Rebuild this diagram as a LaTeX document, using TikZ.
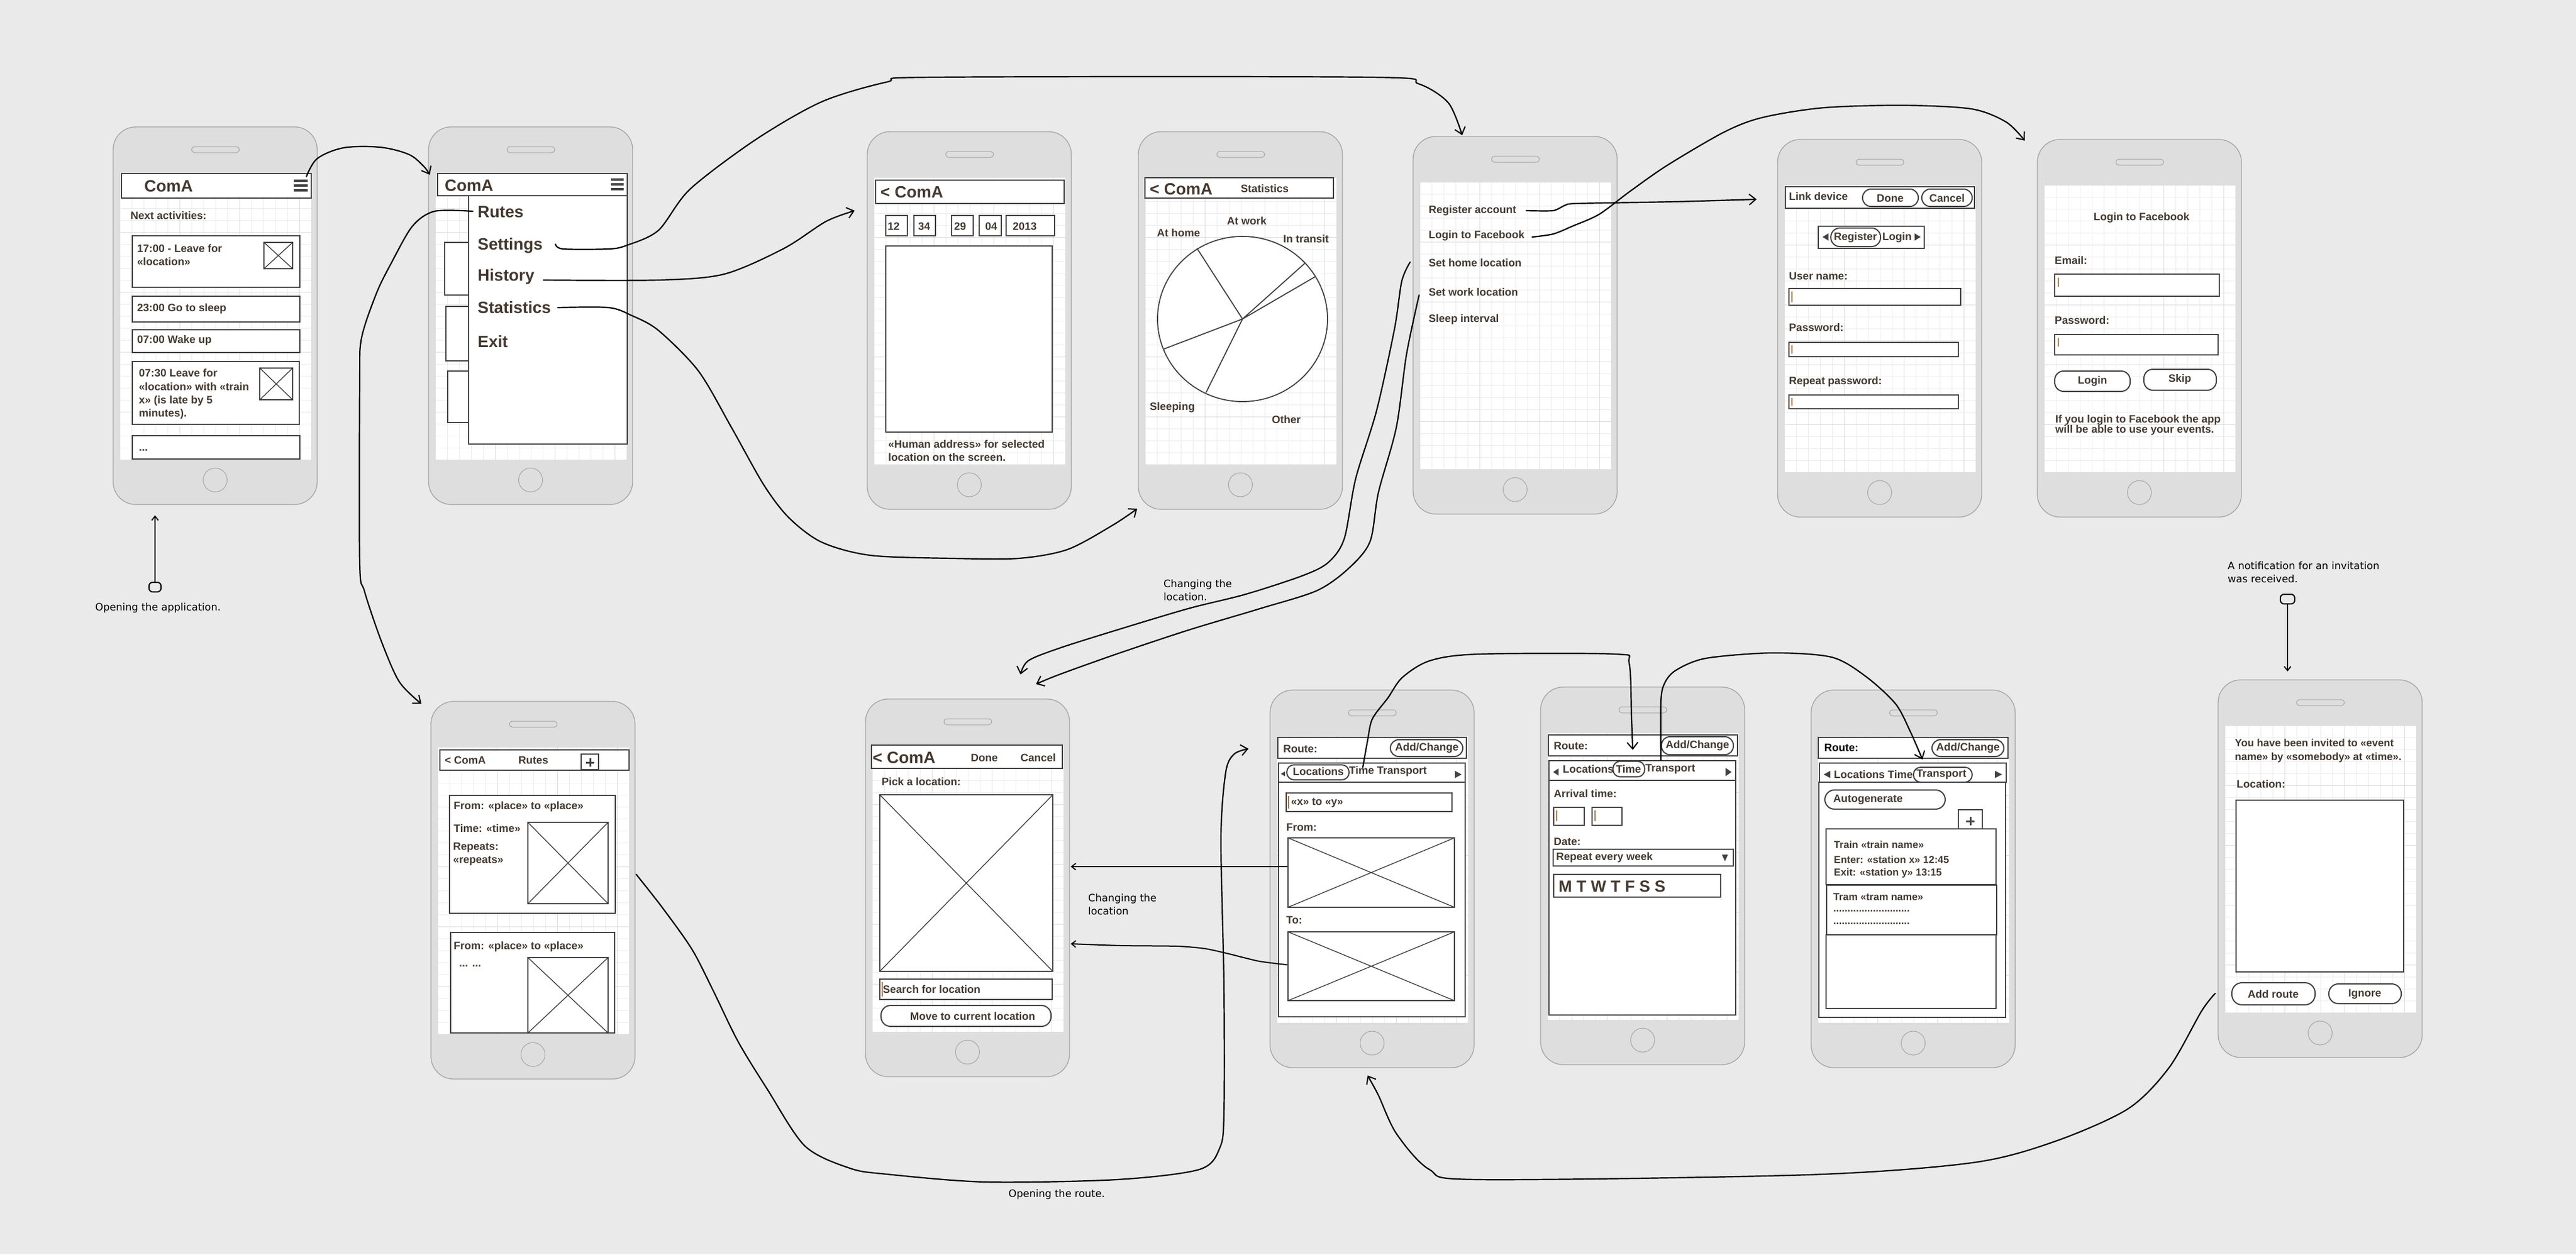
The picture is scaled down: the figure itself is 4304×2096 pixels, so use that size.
\documentclass[tikz,border=0pt]{standalone}
\usepackage{fontspec}
\setmainfont{Liberation Sans}
\newfontfamily\dejavu{DejaVu Sans}
\usetikzlibrary{arrows.meta}
\definecolor{bgc}{HTML}{EAEAEA}
\definecolor{phonefill}{HTML}{DEDEDE}
\definecolor{phoneline}{HTML}{A4A4A4}
\definecolor{gridmin}{HTML}{EDEDED}
\definecolor{gridmaj}{HTML}{DEDEDE}
\definecolor{boxc}{HTML}{424242}
\definecolor{txtc}{HTML}{45392F}
\definecolor{curc}{HTML}{B0703A}
\newcommand\phonedev[3]{%
 \begin{scope}[shift={(#2,#3)}]
 \draw[phonebody] (0,0) rectangle (341,631);
 \fill[white] (11,76) rectangle (331,556);
 \foreach \gx in {31,51,...,311} {\draw[gridminor] (\gx,76) -- (\gx,556);}
 \foreach \gy in {96,116,...,536} {\draw[gridminor] (11,\gy) -- (331,\gy);}
 \foreach \gx in {111,211,311} {\draw[gridmajor] (\gx,76) -- (\gx,556);}
 \foreach \gy in {176,276,376,476} {\draw[gridmajor] (11,\gy) -- (331,\gy);}
 \draw[draw=gridmaj, line width=1pt] (11,76) rectangle (331,556);
 \draw[draw=phoneline, line width=1pt, fill=phonefill, rounded corners=5pt] (131,33) rectangle (211,43);
 \draw[draw=phoneline, line width=1pt] (170.5,590) circle [radius=20];
 \coordinate (#1) at (170.5,315.5);
 \end{scope}}
\newcommand\imgph[4]{\draw[wbox] (#1,#2) rectangle (#3,#4); \draw[imgx] (#1,#2) -- (#3,#4) (#1,#4) -- (#3,#2);}
\newcommand\cursor[3]{\draw[curc, line width=1.2pt] (#1,#2) -- (#1,#3);}
\begin{document}
\begin{tikzpicture}[x=1pt,y=-1pt,
 phonebody/.style={fill=phonefill, draw=phoneline, line width=1.3pt, rounded corners=38pt},
 gridminor/.style={draw=gridmin, line width=1pt},
 gridmajor/.style={draw=gridmaj, line width=1pt},
 wbox/.style={draw=boxc, line width=2.4pt, fill=white},
 imgx/.style={draw=boxc, line width=1.4pt},
 pill/.style={draw=boxc, line width=2pt, fill=white, rounded corners=14pt},
 lbl/.style={inner sep=0pt, anchor=west, text=txtc, align=left, font=\fontsize{18}{22}\selectfont\bfseries},
 ctr/.style={lbl, anchor=center},
 big/.style={lbl, font=\fontsize{27.5}{30}\selectfont\bfseries},
 b5t/.style={lbl, font=\fontsize{17}{22}\selectfont\bfseries},
 ann/.style={inner sep=0pt, anchor=west, align=left, text=black, font=\dejavu\fontsize{17}{22}\selectfont},
 conn/.style={draw=black, line width=2.2pt, line join=round, line cap=round},
 tip/.style={-{Straight Barb[length=11pt,width=18pt,line width=2pt]}},
 smalltip/.style={-{Straight Barb[length=7pt,width=11pt,line width=1.8pt]}}]
\useasboundingbox (0,0) rectangle (4304,2096);
\fill[bgc] (0,0) rectangle (4304,2096);

% ---------------- phones ----------------
\phonedev{P1}{189}{212}
\phonedev{P2}{716}{212}
\phonedev{P3}{1449}{220}
\phonedev{P4}{1902}{220}
\phonedev{P5}{2361}{228}
\phonedev{P6}{2970}{233}
\phonedev{P7}{3404}{233}
\phonedev{B1}{720}{1172}
\phonedev{B2}{1446}{1168}
\phonedev{B3}{2122}{1153}
\phonedev{B4}{2574}{1148}
\phonedev{B5}{3026}{1153}
\phonedev{B6}{3706}{1136}

% ---------------- P1 ----------------
\draw[wbox] (203,290) rectangle (520,331);
\node[big] (p1title) at (241,311) {ComA};
\fill[boxc] (491,300) rectangle (514,304) (491,308) rectangle (514,312) (491,316) rectangle (514,320);
\node[lbl] (p1next) at (218,360) {Next activities:};
\draw[wbox] (221,394) rectangle (501,480);
\node[lbl] (p1a) at (229,426) {17:00 - Leave for\\«location»};
\imgph{441}{405}{489}{449}
\draw[wbox] (221,495) rectangle (501,538);
\node[lbl] (p1b) at (229,516) {23:00 Go to sleep};
\draw[wbox] (221,551) rectangle (501,589);
\node[lbl] (p1c) at (229,569) {07:00 Wake up};
\draw[wbox] (221,604) rectangle (500,709);
\node[lbl, font=\fontsize{18}{22.3}\selectfont\bfseries] (p1d) at (232,658.5) {07:30 Leave for\\«location» with «train\\x» (is late by 5\\minutes).};
\imgph{434}{615}{489}{668}
\draw[wbox] (221,728) rectangle (501,767);
\node[lbl] (p1e) at (232,752) {...};

% ---------------- P2 ----------------
\draw[wbox] (743,405) rectangle (790,493);
\draw[wbox] (745,512) rectangle (790,603);
\draw[wbox] (748,620) rectangle (790,706);
\draw[wbox] (731,290) rectangle (1048,327);
\node[big] (p2title) at (743,310) {ComA};
\fill[boxc] (1021,298) rectangle (1042,302) (1021,306) rectangle (1042,310) (1021,314) rectangle (1042,318);
\draw[wbox] (783,327) rectangle (1048,742);
\node[big] (mRutes) at (798,354) {Rutes};
\node[big] (mSettings) at (798,410) {Settings};
\node[big] (mHistory) at (798,462) {History};
\node[big] (mStats) at (798,514) {Statistics};
\node[big] (mExit) at (798,571) {Exit};

% ---------------- P3 ----------------
\draw[wbox] (1463,301) rectangle (1778,340);
\node[big] (p3title) at (1471,321) {< ComA};
\draw[wbox] (1480,360) rectangle (1516,394);
\draw[wbox] (1527,360) rectangle (1563,394);
\draw[wbox] (1590,360) rectangle (1626,394);
\draw[wbox] (1636,360) rectangle (1673,394);
\draw[wbox] (1681,360) rectangle (1762,394);
\node[lbl] (d1) at (1483,378) {12};
\node[lbl] (d2) at (1534,378) {34};
\node[lbl] (d3) at (1594,378) {29};
\node[lbl] (d4) at (1646,378) {04};
\node[lbl] (d5) at (1692,378) {2013};
\draw[wbox] (1480,411) rectangle (1758,722);
\node[lbl] (p3addr) at (1484,753) {«Human address» for selected\\location on the screen.};

% ---------------- P4 ----------------
\draw[wbox] (1913,297) rectangle (2228,331);
\node[big] (p4title) at (1921,316) {< ComA};
\node[lbl] (p4stat) at (2073,315) {Statistics};
\node[lbl] (lWork) at (2050,369) {At work};
\node[lbl] (lHome) at (1933,389) {At home};
\node[lbl] (lTransit) at (2144,399) {In transit};
\node[lbl] (lSleep) at (1921,681) {Sleeping};
\node[lbl] (lOther) at (2125,701) {Other};
\draw[draw=boxc, line width=1.8pt, fill=white] (2076,533) ellipse [x radius=142, y radius=138];
\draw[draw=boxc, line width=1.8pt] (2076,533) -- (2000,415) (2076,533) -- (2180,440) (2076,533) -- (2198,462) (2076,533) -- (1945,583) (2076,533) -- (2015,656);

% ---------------- P5 ----------------
\node[lbl] (sReg) at (2387,352) {Register account};
\node[lbl] (sFb) at (2387,394) {Login to Facebook};
\node[lbl] (sHome) at (2387,439) {Set home location};
\node[lbl] (sWork) at (2387,488) {Set work location};
\node[lbl] (sSleep) at (2387,534) {Sleep interval};

% ---------------- P6 ----------------
\draw[wbox] (2983,312) rectangle (3299,348);
\node[lbl] (p6title) at (2989,328) {Link device};
\draw[pill] (3112,316) rectangle (3205,345);
\node[ctr] (p6done) at (3158,331) {Done};
\draw[pill] (3211,316) rectangle (3295,345);
\node[ctr] (p6cancel) at (3253,331) {Cancel};
\draw[wbox] (3038,378) rectangle (3215,415);
\fill[boxc] (3045,396) -- (3055,390) -- (3055,402) -- cycle;
\fill[boxc] (3209,396) -- (3199,390) -- (3199,402) -- cycle;
\draw[pill, rounded corners=15pt] (3059,381) rectangle (3142,412);
\node[ctr] (p6reg) at (3100,397) {Register};
\node[lbl] (p6login) at (3145,397) {Login};
\node[lbl] (p6user) at (2989,461) {User name:};
\draw[wbox] (2989,482) rectangle (3276,510);
\cursor{2994}{487}{505}
\node[lbl] (p6pw) at (2989,547) {Password:};
\draw[wbox] (2989,572) rectangle (3272,596);
\cursor{2994}{577}{591}
\node[lbl] (p6rpw) at (2989,638) {Repeat password:};
\draw[wbox] (2989,660) rectangle (3272,683);
\cursor{2994}{665}{678}

% ---------------- P7 ----------------
\node[ctr] (p7title) at (3578,364) {Login to Facebook};
\node[lbl] (p7mail) at (3433,435) {Email:};
\draw[wbox] (3433,458) rectangle (3708,495);
\cursor{3439}{464}{479}
\node[lbl] (p7pw) at (3433,535) {Password:};
\draw[wbox] (3433,559) rectangle (3706,593);
\cursor{3439}{565}{579}
\draw[pill, rounded corners=15pt] (3433,620) rectangle (3559,654);
\node[ctr] (p7login) at (3496,637) {Login};
\draw[pill, rounded corners=15pt] (3582,617) rectangle (3703,652);
\node[ctr] (p7skip) at (3642,634) {Skip};
\node[lbl, font=\fontsize{18}{17}\selectfont\bfseries] (p7info) at (3434,710.5) {If you login to Facebook the app\\will be able to use your events.};

% ---------------- B1 ----------------
\draw[wbox] (735,1253) rectangle (1051,1287);
\node[lbl] (b1back) at (743,1270) {< ComA};
\node[lbl] (b1title) at (866,1270) {Rutes};
\draw[wbox] (971,1260) rectangle (1000,1286);
\draw[boxc, line width=3pt] (979,1274) -- (993,1274) (986,1267) -- (986,1281);
\draw[wbox] (751,1329) rectangle (1028,1526);
\node[lbl] (b1from) at (758,1348) {From: «place» to «place»};
\node[lbl] (b1time) at (758,1384) {Time: «time»};
\node[lbl] (b1rep) at (757,1427) {Repeats:\\«repeats»};
\imgph{882}{1374}{1016}{1510}
\draw[wbox] (753,1558) rectangle (1027,1726);
\node[lbl] (b1from2) at (758,1582) {From: «place» to «place»};
\node[lbl] (b1dots) at (767,1614) {... ...};
\imgph{882}{1600}{1016}{1726}

% ---------------- B2 ----------------
\draw[wbox] (1456,1245) rectangle (1775,1284);
\node[big] (b2back) at (1458,1266) {< ComA};
\node[lbl] (b2done) at (1622,1266) {Done};
\node[lbl] (b2cancel) at (1705,1266) {Cancel};
\node[lbl] (b2pick) at (1473,1306) {Pick a location:};
\imgph{1470}{1328}{1759}{1623}
\draw[wbox] (1470,1636) rectangle (1758,1670);
\cursor{1474}{1641}{1665}
\node[lbl] (b2search) at (1475,1653) {Search for location};
\draw[pill, rounded corners=16pt] (1472,1680) rectangle (1756,1715);
\node[ctr] (b2move) at (1625,1698) {Move to current location};

% ---------------- B3 ----------------
\draw[wbox] (2135,1232) rectangle (2450,1267);
\node[lbl] (b3route) at (2144,1251) {Route:};
\draw[pill] (2323,1236) rectangle (2444,1264);
\node[ctr] (b3add) at (2384,1250) {Add/Change};
\draw[wbox] (2136,1275) rectangle (2448,1307);
\fill[boxc] (2140,1293) -- (2147,1289) -- (2147,1297) -- cycle;
\fill[boxc] (2442,1294) -- (2431,1288) -- (2431,1300) -- cycle;
\draw[pill, rounded corners=12pt] (2150,1278) rectangle (2254,1303);
\node[lbl] (b3loc) at (2160,1289) {Locations};
\node[lbl] (b3tt) at (2254,1289) {Time Transport};
\draw[wbox] (2136,1307) rectangle (2448,1699);
\draw[wbox] (2149,1325) rectangle (2426,1356);
\cursor{2153}{1330}{1351}
\node[lbl] (b3xy) at (2157,1341) {«x» to «y»};
\node[lbl] (b3from) at (2149,1382) {From:};
\imgph{2152}{1400}{2430}{1516}
\node[lbl] (b3to) at (2149,1537) {To:};
\imgph{2152}{1557}{2430}{1672}

% ---------------- B4 ----------------
\draw[wbox] (2587,1228) rectangle (2903,1263);
\node[lbl] (b4route) at (2596,1246) {Route:};
\draw[pill] (2776,1231) rectangle (2896,1261);
\node[ctr] (b4add) at (2836,1246) {Add/Change};
\draw[wbox] (2588,1271) rectangle (2900,1304);
\fill[boxc] (2595,1290) -- (2604,1284) -- (2604,1296) -- cycle;
\fill[boxc] (2893,1290) -- (2883,1283) -- (2883,1297) -- cycle;
\node[lbl] (b4loc) at (2611,1285) {Locations};
\draw[pill, rounded corners=12pt] (2695,1272) rectangle (2748,1298);
\node[lbl] (b4time) at (2700,1285) {Time};
\node[lbl] (b4tr) at (2749,1285) {Transport};
\draw[wbox] (2588,1304) rectangle (2900,1696);
\node[lbl] (b4arr) at (2596,1326) {Arrival time:};
\draw[wbox] (2596,1349) rectangle (2647,1379);
\cursor{2601}{1354}{1372}
\draw[wbox] (2660,1349) rectangle (2710,1379);
\cursor{2665}{1354}{1372}
\node[lbl] (b4date) at (2596,1406) {Date:};
\draw[wbox] (2595,1419) rectangle (2896,1447);
\node[lbl] (b4rep) at (2600,1433) {Repeat every week};
\fill[boxc] (2877,1428) -- (2887,1428) -- (2882,1439) -- cycle;
\draw[wbox] (2596,1461) rectangle (2875,1499);
\node[lbl, font=\fontsize{27}{30}\selectfont\bfseries] (b4days) at (2604,1481) {M T W T F S S};

% ---------------- B5 ----------------
\draw[wbox] (3038,1232) rectangle (3355,1267);
\node[lbl, text=black] (b5route) at (3048,1249) {Route:};
\draw[pill] (3228,1236) rectangle (3348,1264);
\node[ctr] (b5add) at (3288,1250) {Add/Change};
\draw[wbox] (3040,1275) rectangle (3352,1307);
\fill[boxc] (3047,1294) -- (3058,1288) -- (3058,1300) -- cycle;
\fill[boxc] (3345,1294) -- (3333,1288) -- (3333,1300) -- cycle;
\node[lbl] (b5lt) at (3064,1294) {Locations Time};
\draw[pill, rounded corners=12pt] (3197,1282) rectangle (3295,1307);
\node[lbl] (b5tr) at (3202,1294) {Transport};
\draw[wbox] (3039,1307) rectangle (3351,1700);
\draw[pill, rounded corners=16pt] (3049,1320) rectangle (3250,1352);
\node[lbl] (b5auto) at (3063,1336) {Autogenerate};
\draw[wbox] (3272,1353) rectangle (3312,1385);
\draw[boxc, line width=3pt] (3285,1372) -- (3299,1372) (3292,1365) -- (3292,1379);
\draw[wbox] (3051,1385) rectangle (3335,1478);
\node[b5t] (b5train) at (3064,1411) {Train «train name»};
\node[b5t] (b5enter) at (3064,1436) {Enter: «station x» 12:45};
\node[b5t] (b5exit) at (3064,1459) {Exit: «station y» 13:15};
\draw[wbox] (3052,1479) rectangle (3336,1562);
\node[b5t] (b5tram) at (3063,1499) {Tram «tram name»};
\node[b5t] (b5d1) at (3063,1522) {...........................};
\node[b5t] (b5d2) at (3063,1543) {...........................};
\draw[wbox] (3051,1562) rectangle (3335,1685);

% ---------------- B6 ----------------
\node[lbl, font=\fontsize{17.5}{23}\selectfont\bfseries] (b6inv) at (3734,1254.5) {You have been invited to «event\\name» by «somebody» at «time».};
\node[lbl] (b6loc) at (3737,1310) {Location:};
\draw[wbox] (3736,1337) rectangle (4016,1624);
\draw[pill, rounded corners=17pt] (3729,1642) rectangle (3868,1679);
\node[ctr] (b6add) at (3798,1661) {Add route};
\draw[pill, rounded corners=16pt] (3891,1644) rectangle (4012,1677);
\node[ctr] (b6ign) at (3951,1661) {Ignore};

% ---------------- annotations ----------------
\node[ann] (aOpenApp) at (159,1016) {Opening the application.};
\node[ann] (aChg1) at (1944,986) {Changing the\\location.};
\node[ann] (aChg2) at (1818,1511) {Changing the\\location};
\node[ann] (aRoute) at (1685,1996) {Opening the route.};
\node[ann] (aNotif) at (3722,956) {A notification for an invitation\\was received.};

\draw[black, line width=2pt, rounded corners=6pt] (249,973) rectangle (269,989);
\coordinate (oaS) at (259,973);
\coordinate (oaE) at (259,861);
\draw[conn, line width=2pt, smalltip] (oaS) -- (oaE);
\draw[black, line width=2pt, rounded corners=6pt] (3810,993) rectangle (3834,1009);
\coordinate (nS) at (3822,1009);
\coordinate (nE) at (3822,1122);
\draw[conn, line width=2pt, smalltip] (nS) -- (nE);

% ---------------- connectors ----------------
\coordinate (c1s) at (512,295);
\coordinate (c1e) at (718,292);
\draw[conn, tip] plot[smooth, tension=0.55] coordinates {(c1s) (530,265) (574,247) (635,246) (683,258) (708,278) (c1e)};

\coordinate (c2s) at (790,353);
\coordinate (c2e) at (704,1176);
\draw[conn, tip] plot[smooth, tension=0.5] coordinates {(c2s) (726,353) (689,378) (653,441) (629,490) (604,565) (601,640) (601,940) (609,988) (637,1071) (667,1139) (c2e)};

\coordinate (c3s) at (928,408);
\coordinate (c3e) at (2443,226);
\draw[conn, tip] plot[smooth, tension=0.5] coordinates {(c3s) (941,416) (1017,416) (1047,410) (1100,385) (1153,316) (1263,233) (1373,170) (1482,137) (1560,129) (2290,129) (2370,140) (2420,172) (c3e)};

\coordinate (c4s) at (908,468);
\coordinate (c4e) at (1428,352);
\draw[conn, tip] plot[smooth, tension=0.5] coordinates {(c4s) (1100,468) (1210,458) (1310,415) (1380,370) (c4e)};

\coordinate (c5s) at (932,514);
\coordinate (c5e) at (1900,850);
\draw[conn, tip] plot[smooth, tension=0.5] coordinates {(c5s) (1017,514) (1055,527) (1100,552) (1167,620) (1222,714) (1276,810) (1318,865) (1373,906) (1455,928) (1592,933) (1702,933) (1784,918) (1860,877) (c5e)};

\coordinate (c6s) at (2550,352);
\coordinate (c6e) at (2935,333);
\draw[conn, tip] plot[smooth, tension=0.4] coordinates {(c6s) (2595,352) (2615,343) (2635,340) (2800,337) (c6e)};

\coordinate (c7s) at (2560,396);
\coordinate (c7e) at (3383,235);
\draw[conn, tip] plot[smooth, tension=0.5] coordinates {(c7s) (2595,391) (2627,378) (2672,358) (2723,320) (2786,276) (2882,220) (2946,196) (3047,180) (3180,176) (3294,182) (3352,204) (c7e)};

\coordinate (c8s) at (2356,438);
\coordinate (c8e) at (1705,1127);
\draw[conn, tip] plot[smooth, tension=0.5] coordinates {(c8s) (2342,470) (2330,549) (2300,686) (2265,800) (2246,900) (2219,940) (2176,962) (2081,993) (1985,1017) (1865,1053) (1770,1083) (1718,1104) (c8e)};

\coordinate (c9s) at (2371,493);
\coordinate (c9e) at (1731,1143);
\draw[conn, tip] plot[smooth, tension=0.5] coordinates {(c9s) (2350,592) (2333,714) (2303,823) (2289,905) (2253,950) (2200,987) (2105,1017) (1985,1053) (1865,1093) (1770,1127) (c9e)};

\coordinate (c10s) at (1063,1461);
\coordinate (c10e) at (2086,1251);
\draw[conn, tip] plot[smooth, tension=0.5] coordinates {(c10s) (1107,1517) (1156,1586) (1191,1654) (1233,1740) (1282,1820) (1345,1915) (1420,1952) (1482,1962) (1647,1975) (1866,1971) (2004,1954) (2038,1918) (2045,1860) (2045,1647) (2040,1400) (2048,1290) (2062,1260) (c10e)};

\coordinate (c11s) at (2150,1448);
\coordinate (c11e) at (1789,1448);
\draw[conn, line width=2pt, smalltip] (c11s) -- (c11e);

\coordinate (c12s) at (2150,1612);
\coordinate (c12e) at (1789,1577);
\draw[conn, line width=2pt, smalltip] plot[smooth, tension=0.4] coordinates {(c12s) (2103,1606) (2050,1593) (2013,1585) (1967,1581) (1873,1580) (c12e)};

\coordinate (c13s) at (2277,1282);
\coordinate (c13e) at (2728,1253);
\draw[conn, tip] plot[smooth, tension=0.5] coordinates {(c13s) (2285,1237) (2293,1201) (2319,1166) (2343,1132) (2389,1104) (2470,1093) (2700,1093) (2722,1108) (2726,1201) (c13e)};

\coordinate (c14s) at (2775,1270);
\coordinate (c14e) at (3212,1269);
\draw[conn, tip] plot[smooth, tension=0.5] coordinates {(c14s) (2775,1173) (2781,1142) (2800,1120) (2850,1100) (2960,1091) (3060,1098) (3117,1130) (3167,1176) (3192,1223) (c14e)};

\coordinate (c15s) at (3701,1660);
\coordinate (c15e) at (2285,1797);
\draw[conn, tip] plot[smooth, tension=0.5] coordinates {(c15s) (3678,1690) (3624,1784) (3555,1853) (3431,1908) (3294,1943) (3020,1963) (2470,1971) (2388,1954) (2333,1894) (2303,1830) (c15e)};
\end{tikzpicture}
\end{document}
